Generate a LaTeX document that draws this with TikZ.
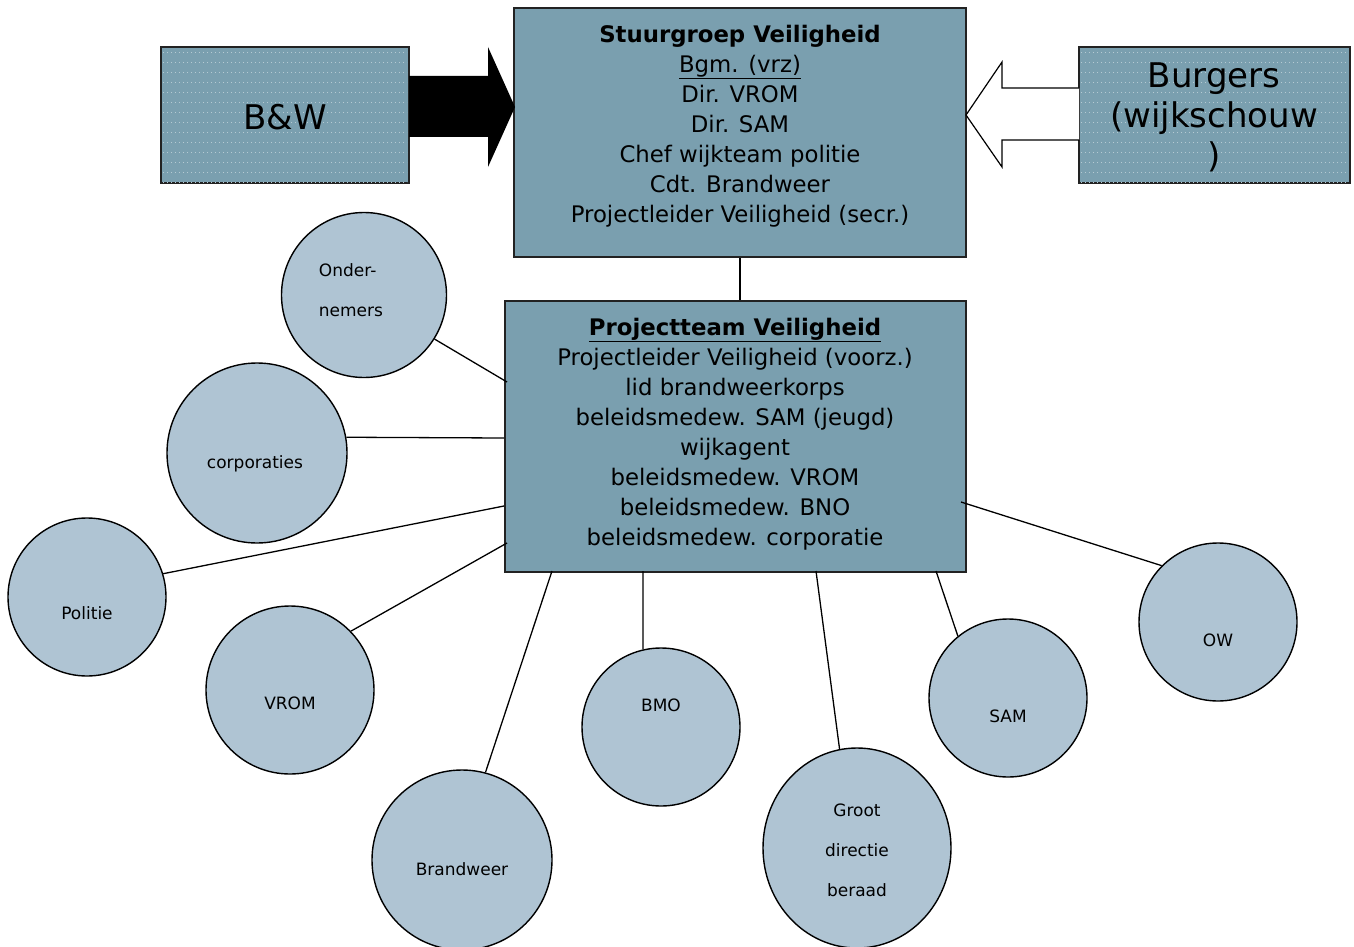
\documentclass[tikz,border=0pt]{standalone}
\usepackage{fontspec}
\setmainfont{DejaVu Sans}
\usepackage{tikz}
\usetikzlibrary{shapes.geometric,positioning}
\definecolor{boxblue}{HTML}{7A9FAF}
\definecolor{ballblue}{HTML}{AFC4D3}
\definecolor{rimgrey}{HTML}{222222}

\tikzset{
  groupbox/.style={draw=rimgrey, fill=boxblue, line width=1.6pt, inner sep=0pt},
  member/.style={circle, draw=black, fill=ballblue, line width=1.4pt, inner sep=0pt},
  boxtext/.style={align=center, inner sep=0pt, font=\fontsize{22.8}{30}\selectfont},
  bigtext/.style={align=center, inner sep=0pt, font=\fontsize{34}{40}\selectfont},
  balltext/.style={align=left, inner sep=0pt, font=\fontsize{17}{40}\selectfont},
  dotrow/.style={white!45!boxblue, line width=0.55pt, dash pattern=on 0.55pt off 3.45pt},
}

\begin{document}
\begin{tikzpicture}[x=1pt,y=-1pt,line width=1.3pt]
\clip (0,0) rectangle (1354,947);

% boxes
\node (SG) at (740,132.5) [groupbox, minimum width=452pt, minimum height=249pt] {};
\node (PT) at (735.5,436.5) [groupbox, minimum width=461pt, minimum height=271pt] {};
\node (BW) at (285,115) [groupbox, minimum width=248pt, minimum height=136pt] {};
\node (BU) at (1214.5,115) [groupbox, minimum width=271pt, minimum height=136pt] {};
\foreach \y in {52,62,...,182} {
  \draw[dotrow] (163,\y) -- (407,\y);
  \draw[dotrow] (1081,\y) -- (1348,\y);
}

\node (SGtxt) at (740,126) [boxtext] {\textbf{Stuurgroep Veiligheid}\\\underline{Bgm. (vrz)}\\Dir. VROM\\Dir. SAM\\Chef wijkteam politie\\Cdt. Brandweer\\Projectleider Veiligheid (secr.)};
\node (PTtxt) at (735,434) [boxtext] {\textbf{\underline{Projectteam Veiligheid}}\\Projectleider Veiligheid (voorz.)\\lid brandweerkorps\\beleidsmedew. SAM (jeugd)\\wijkagent\\beleidsmedew. VROM\\beleidsmedew. BNO\\beleidsmedew. corporatie};
\node (BWtxt) at (285,117) [bigtext] {B\&W};
\node (BUtxt) at (1214,117) [bigtext] {Burgers\\(wijkschouw\\)};

% arrows
\fill[black] (409,76) -- (488,76) -- (488,47) -- (515,107) -- (488,167) -- (488,137) -- (409,137) -- cycle;
\draw[fill=white, line width=1.2pt] (1079,88) -- (1002,88) -- (1002,62) -- (966,115) -- (1002,167) -- (1002,140) -- (1079,140);
\draw (SG.south) -- (SG.south |- PT.north);

% members
\node (ond) at (364,295) [member, minimum size=165pt] {};
\node (cor) at (257,453) [member, minimum size=180pt] {};
\node (pol) at (87,597) [member, minimum size=158pt] {};
\node (vrom) at (290,690) [member, minimum size=168pt] {};
\node (brw) at (462,860) [member, minimum size=180pt] {};
\node (bmo) at (661,727) [member, minimum size=158pt] {};
\node (gdb) at (857,848) [member, ellipse, minimum width=188pt, minimum height=200pt] {};
\node (sam) at (1008,698) [member, minimum size=158pt] {};
\node (ow) at (1218,622) [member, minimum size=158pt] {};

\node (ondtxt) at (351,290) [balltext] {Onder-\\nemers};
\node (cortxt) at (255,464) [balltext] {corporaties};
\node (poltxt) at (87,613) [balltext] {Politie};
\node (vromtxt) at (290,703) [balltext] {VROM};
\node (brwtxt) at (462,869) [balltext] {Brandweer};
\node (bmotxt) at (661,705) [balltext] {BMO};
\node (gdbtxt) at (857,850) [balltext, align=center] {Groot\\directie\\beraad};
\node (samtxt) at (1008,716) [balltext] {SAM};
\node (owtxt) at (1218,640) [balltext] {OW};

% links to the projectteam
\coordinate (p1) at (507,382);
\coordinate (p2) at (504,438);
\coordinate (p3) at (504,506);
\coordinate (p4) at (507,543);
\coordinate (p5) at (552,571);
\coordinate (p6) at (643,571);
\coordinate (p7) at (816,571);
\coordinate (p8) at (936,571);
\coordinate (p9) at (961,502);
\draw (ond.-32) -- (p1);
\draw (cor.10) -- (p2);
\draw (pol.17) -- (p3);
\draw (vrom.44) -- (p4);
\draw (brw.75) -- (p5);
\draw (bmo.103) -- (p6);
\draw (gdb.100) -- (p7);
\draw (sam.129) -- (p8);
\draw (ow.135) -- (p9);

\end{tikzpicture}
\end{document}
